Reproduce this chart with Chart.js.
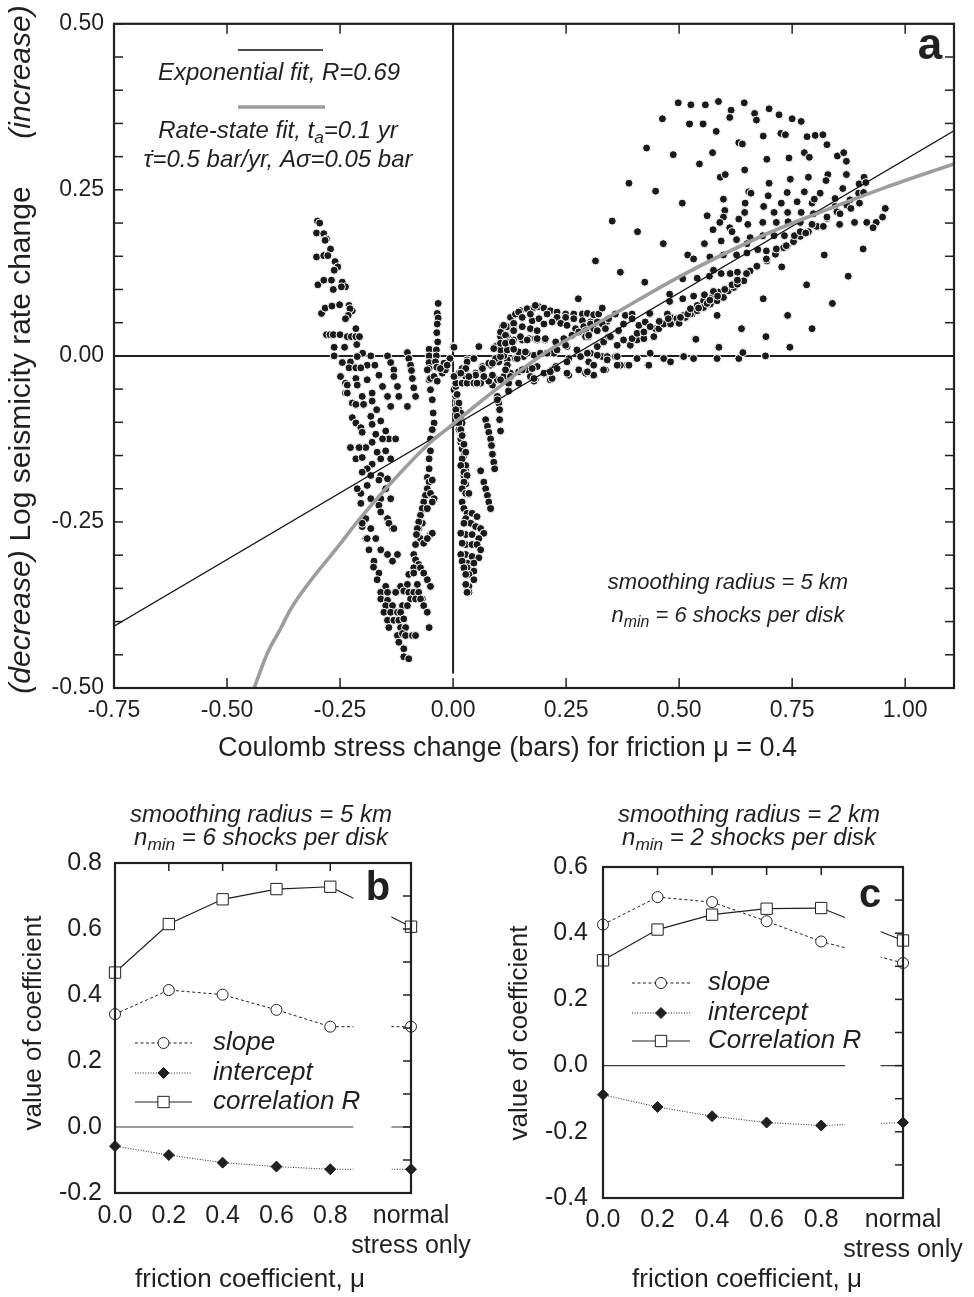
<!DOCTYPE html>
<html>
<head>
<meta charset="utf-8">
<script src="https://cdn.jsdelivr.net/npm/chart.js@4.4.1/dist/chart.umd.min.js"></script>
<style>
  html, body { margin: 0; padding: 0; background: #fff; }
  #page { position: relative; width: 974px; height: 1297px; overflow: hidden; background: #fff; }
  #page canvas { position: absolute; }
</style>
</head>
<body>
<div id="page">
  <canvas id="panelA" width="974" height="785" style="left:0;top:0;width:974px;height:785px"></canvas>
  <canvas id="panelB" width="490" height="512" style="left:0;top:785px;width:490px;height:512px"></canvas>
  <canvas id="panelC" width="484" height="512" style="left:490px;top:785px;width:484px;height:512px"></canvas>
</div>
<script>
// ---------- panel a: smoothed cells, stress change vs. log rate change ----------
const xTickValuesA = [-0.75, -0.5, -0.25, 0, 0.25, 0.5, 0.75, 1.0];
const xTickLabelsA = ['-0.75', '-0.50', '-0.25', '0.00', '0.25', '0.50', '0.75', '1.00'];
const yTickValuesA = [-0.5, -0.25, 0, 0.25, 0.5];
const yTickLabelsA = ['-0.50', '-0.25', '0.00', '0.25', '0.50'];

// [Coulomb stress change (bar), log seismicity rate change]
const cellPairs = [
  // western lobe, rising streaks
  [-0.300,0.203],[-0.295,0.200],[-0.302,0.185],[-0.286,0.184],[-0.280,0.176],[-0.283,0.174],[-0.271,0.161],
  [-0.302,0.149],[-0.286,0.151],[-0.277,0.151],[-0.261,0.142],[-0.255,0.134],[-0.263,0.129],[-0.299,0.107],
  [-0.286,0.114],[-0.269,0.114],[-0.265,0.100],[-0.245,0.111],[-0.238,0.104],[-0.247,0.104],[-0.291,0.064],
  [-0.283,0.072],[-0.268,0.075],[-0.251,0.077],[-0.230,0.076],[-0.223,0.068],[-0.228,0.071],[-0.232,0.061],
  [-0.238,0.056],[-0.215,0.041],[-0.280,0.032],[-0.272,0.032],[-0.265,0.032],[-0.250,0.032],[-0.234,0.029],
  [-0.225,0.029],[-0.215,0.029],[-0.207,0.029],[-0.263,0.013],[-0.240,0.013],[-0.213,0.017],[-0.200,0.004],
  [-0.263,0.000],[-0.245,-0.010],[-0.227,-0.009],[-0.212,-0.001],[-0.182,0.000],[-0.190,-0.014],[-0.173,-0.014],
  [-0.230,-0.018],[-0.215,-0.018],[-0.204,-0.018],[-0.145,0.000],[-0.138,-0.010],[-0.131,-0.021],[-0.101,0.005],
  [-0.098,-0.004],[-0.094,-0.014],[-0.092,-0.022],[-0.053,0.010],[-0.053,0.000],[-0.053,-0.010],[-0.053,-0.019],
  [-0.033,0.079],[-0.035,0.064],[-0.033,0.057],[-0.035,0.048],[-0.036,0.035],[-0.034,0.021],[-0.037,0.009],
  [-0.037,0.000],[-0.039,-0.009],[-0.036,-0.017],[0.000,0.014],[-0.007,-0.004],[-0.013,-0.014],[-0.016,-0.021],
  [0.031,-0.006],[0.020,-0.019],
  // western lobe, falling streaks
  [-0.249,-0.031],[-0.238,-0.041],[-0.238,-0.056],[-0.215,-0.034],[-0.212,-0.044],[-0.190,-0.036],[-0.164,-0.029],
  [-0.156,-0.046],[-0.179,-0.056],[-0.201,-0.061],[-0.223,-0.071],[-0.215,-0.073],[-0.198,-0.073],[-0.179,-0.068],
  [-0.169,-0.081],[-0.145,-0.061],[-0.138,-0.076],[-0.123,-0.046],[-0.120,-0.061],[-0.101,-0.076],[-0.083,-0.061],
  [-0.087,-0.048],[-0.090,-0.034],[-0.131,-0.031],[-0.223,-0.093],[-0.215,-0.101],[-0.204,-0.108],[-0.201,-0.115],
  [-0.182,-0.091],[-0.179,-0.103],[-0.160,-0.098],[-0.149,-0.113],[-0.142,-0.125],[-0.127,-0.125],[-0.156,-0.125],
  [-0.171,-0.118],[-0.179,-0.130],[-0.193,-0.138],[-0.227,-0.138],[-0.208,-0.138],[-0.215,-0.155],[-0.201,-0.153],
  [-0.179,-0.163],[-0.168,-0.145],[-0.149,-0.143],[-0.138,-0.155],[-0.160,-0.155],[-0.190,-0.170],[-0.201,-0.175],
  [-0.182,-0.180],[-0.160,-0.180],[-0.145,-0.185],[-0.164,-0.187],[-0.149,-0.200],[-0.190,-0.195],[-0.204,-0.207],
  [-0.182,-0.215],[-0.160,-0.215],[-0.138,-0.215],[-0.212,-0.200],[-0.204,-0.222],[-0.164,-0.225],[-0.160,-0.235],
  [-0.145,-0.245],[-0.134,-0.260],[-0.193,-0.245],[-0.201,-0.257],[-0.193,-0.275],[-0.234,-0.044],[-0.234,-0.056],
  // western lobe, deep trough
  [-0.201,-0.252],[-0.182,-0.260],[-0.142,-0.252],[-0.131,-0.260],[-0.190,-0.275],[-0.171,-0.275],[-0.186,-0.292],
  [-0.160,-0.292],[-0.145,-0.299],[-0.123,-0.299],[-0.134,-0.309],[-0.175,-0.309],[-0.176,-0.318],[-0.164,-0.327],
  [-0.168,-0.337],[-0.149,-0.347],[-0.116,-0.347],[-0.160,-0.356],[-0.145,-0.356],[-0.127,-0.356],[-0.160,-0.366],
  [-0.145,-0.368],[-0.149,-0.376],[-0.134,-0.376],[-0.153,-0.386],[-0.138,-0.386],[-0.123,-0.386],[-0.145,-0.398],
  [-0.131,-0.398],[-0.120,-0.398],[-0.142,-0.409],[-0.116,-0.409],[-0.123,-0.421],
  [-0.068,-0.252],[-0.076,-0.260],[-0.079,-0.269],[-0.072,-0.275],[-0.065,-0.282],[-0.050,-0.269],[-0.046,-0.267],
  [-0.057,-0.275],[-0.083,-0.284],[-0.087,-0.299],[-0.083,-0.307],[-0.076,-0.314],[-0.087,-0.319],[-0.072,-0.319],
  [-0.098,-0.329],[-0.087,-0.327],[-0.065,-0.327],[-0.057,-0.337],[-0.050,-0.347],[-0.079,-0.344],[-0.101,-0.344],
  [-0.109,-0.354],[-0.098,-0.356],[-0.087,-0.356],[-0.076,-0.356],[-0.068,-0.366],[-0.094,-0.366],[-0.083,-0.366],
  [-0.072,-0.366],[-0.065,-0.376],[-0.057,-0.386],[-0.112,-0.376],[-0.101,-0.376],[-0.116,-0.386],[-0.109,-0.396],
  [-0.105,-0.409],[-0.112,-0.418],[-0.105,-0.421],[-0.090,-0.421],[-0.083,-0.421],[-0.120,-0.431],[-0.109,-0.441],
  [-0.109,-0.453],[-0.098,-0.456],[-0.053,-0.409],
  // column just west of zero stress
  [-0.057,-0.021],[-0.053,-0.036],[-0.050,-0.051],[-0.046,-0.066],[-0.044,-0.086],[-0.042,-0.101],[-0.046,-0.111],
  [-0.050,-0.125],[-0.050,-0.143],[-0.053,-0.155],[-0.053,-0.170],[-0.057,-0.183],[-0.053,-0.190],[-0.057,-0.200],
  [-0.061,-0.210],[-0.065,-0.220],[-0.068,-0.230],[-0.072,-0.240],[-0.076,-0.250],[-0.079,-0.260],[-0.081,-0.269],
  [-0.046,-0.187],[-0.050,-0.207],[-0.042,-0.215],[-0.046,-0.220],[-0.057,-0.230],[-0.050,-0.034],[-0.042,-0.031],
  [-0.035,-0.038],[-0.024,-0.026],[-0.017,-0.021],[-0.020,-0.011],[-0.028,-0.019],
  // column just east of zero stress
  [0.002,-0.051],[0.006,-0.061],[0.009,-0.071],[0.013,-0.081],[0.017,-0.091],[0.020,-0.101],[0.017,-0.111],
  [0.020,-0.120],[0.017,-0.130],[0.023,-0.140],[0.024,-0.150],[0.020,-0.160],[0.028,-0.170],[0.031,-0.180],
  [0.006,-0.046],[0.009,-0.058],[0.013,-0.071],[0.017,-0.086],[0.013,-0.111],[0.017,-0.125],[0.020,-0.140],
  [0.028,-0.165],[0.024,-0.180],[0.028,-0.193],
  [0.006,-0.081],[0.009,-0.091],[0.013,-0.101],[0.017,-0.111],[0.020,-0.120],[0.024,-0.133],[0.028,-0.145],
  [0.020,-0.155],[0.017,-0.165],[0.024,-0.175],[0.031,-0.180],[0.024,-0.190],[0.020,-0.200],[0.028,-0.207],
  [0.035,-0.207],[0.020,-0.220],[0.024,-0.230],[0.031,-0.237],[0.042,-0.237],[0.053,-0.242],[0.028,-0.245],
  [0.039,-0.252],[0.050,-0.257],[0.061,-0.260],[0.068,-0.267],[0.057,-0.275],[0.028,-0.269],[0.042,-0.269],
  [0.028,-0.284],[0.042,-0.284],[0.053,-0.284],[0.061,-0.292],[0.028,-0.299],[0.042,-0.302],[0.057,-0.304],
  [0.031,-0.312],[0.046,-0.312],[0.031,-0.319],[0.046,-0.324],[0.035,-0.329],[0.046,-0.337],[0.035,-0.347],
  [0.035,-0.356],[0.024,-0.252],[0.017,-0.267],[0.020,-0.282],[0.017,-0.299],[0.020,-0.309],[0.024,-0.319],
  [0.028,-0.329],[0.028,-0.344],[0.031,-0.356],
  // short streaks east of zero stress
  [0.072,-0.096],[0.076,-0.106],[0.079,-0.115],[0.083,-0.125],[0.085,-0.135],[0.087,-0.148],[0.090,-0.160],
  [0.092,-0.170],[0.061,-0.173],[0.068,-0.190],[0.072,-0.200],[0.076,-0.210],[0.079,-0.220],[0.083,-0.230],
  [0.087,-0.044],[0.098,-0.061],[0.101,-0.071],[0.103,-0.081],[0.103,-0.096],[0.105,-0.113],
  // near-zero band east of zero stress
  [0.009,-0.029],[0.028,-0.031],[0.050,-0.026],[0.065,-0.021],[0.083,-0.014],[0.101,-0.009],[0.120,-0.006],
  [0.138,-0.004],[0.156,-0.001],[0.179,0.001],[0.006,-0.041],[0.020,-0.041],[0.031,-0.041],[0.046,-0.041],
  [0.061,-0.041],[0.079,-0.038],[0.098,-0.036],[0.112,-0.031],[0.127,-0.026],[0.145,-0.024],[0.164,-0.021],
  [0.186,-0.016],[0.002,0.013],[0.057,0.014],
  [0.031,-0.009],[0.046,-0.004],[0.094,-0.004],[0.112,0.000],[0.142,-0.004],[0.164,0.004],[0.193,0.004],
  [0.223,0.004],[0.256,-0.004],[0.274,0.009],[0.282,-0.001],[0.304,0.004],[0.330,-0.001],[0.341,-0.001],
  [0.359,-0.001],[0.407,-0.004],[0.436,0.004],[0.466,-0.004],[0.481,-0.009],[0.510,-0.001],[0.532,-0.004],
  [0.584,-0.004],[0.632,-0.004],[0.641,0.005],[0.691,0.000],[0.431,-0.014],[0.385,-0.014],[0.370,-0.014],
  [-0.013,-0.014],[0.013,-0.026],[0.028,-0.019],[0.050,-0.029],[0.065,-0.016],[0.079,-0.011],[0.120,-0.014],
  [0.153,-0.021],[0.175,-0.019],[0.201,-0.026],[0.219,-0.021],[0.227,-0.016],[0.252,-0.009],[0.300,-0.009],
  [0.311,-0.014],[0.337,-0.021],[0.389,-0.014],[0.433,-0.014],
  [0.053,-0.041],[0.068,-0.031],[0.087,-0.029],[0.105,-0.036],[0.123,-0.041],[0.145,-0.041],[0.171,-0.031],
  [0.182,-0.036],[0.215,-0.036],[0.256,-0.029],[0.278,-0.021],[0.293,-0.026],[0.311,-0.029],
  [0.002,-0.031],[0.017,-0.026],[0.035,-0.031],[0.116,-0.021],[0.127,-0.031],[0.179,-0.038],[0.201,-0.026],
  [0.219,-0.034],[0.230,-0.019],[0.252,-0.026],[0.297,-0.024],[0.333,-0.021],[0.341,-0.006],[0.363,-0.014],
  [0.065,-0.019],[0.087,-0.011],[0.105,-0.001],[0.123,0.009],[0.145,0.006],[0.208,0.004],[0.230,0.009],
  [0.252,0.014],[0.297,0.004],[0.319,0.001],[0.363,-0.001],[0.098,-0.066],[0.123,-0.053],[0.179,-0.034],
  [0.215,-0.024],
  // hump at 0.1-0.4 bar
  [0.109,0.044],[0.127,0.058],[0.138,0.063],[0.149,0.068],[0.164,0.071],[0.179,0.073],[0.190,0.074],
  [0.120,0.044],[0.134,0.044],[0.153,0.044],[0.175,0.053],[0.190,0.056],[0.105,0.029],[0.120,0.029],
  [0.134,0.024],[0.153,0.024],[0.168,0.026],[0.182,0.026],[0.094,0.014],[0.105,0.009],[0.120,0.009],
  [0.134,0.010],[0.160,0.006],[0.105,0.036],[0.112,0.046],[0.145,0.066],[0.182,0.076],[0.201,0.072],
  [0.215,0.068],[0.230,0.066],[0.249,0.063],[0.267,0.063],[0.286,0.063],[0.297,0.064],[0.311,0.062],
  [0.330,0.072],[0.134,0.049],[0.153,0.058],[0.171,0.063],[0.208,0.063],[0.230,0.058],[0.249,0.058],
  [0.267,0.056],[0.286,0.053],[0.304,0.051],[0.322,0.063],[0.116,0.031],[0.134,0.038],[0.171,0.041],
  [0.186,0.038],[0.201,0.048],[0.219,0.051],[0.238,0.049],[0.252,0.046],[0.271,0.041],[0.289,0.044],
  [0.304,0.048],[0.319,0.051],[0.341,0.052],[0.105,0.019],[0.120,0.021],[0.149,0.029],[0.186,0.024],
  [0.204,0.024],[0.227,0.021],[0.245,0.026],[0.263,0.031],[0.278,0.036],[0.293,0.038],[0.311,0.041],
  [0.330,0.048],[0.344,0.056],[0.359,0.063],[0.381,0.061],[0.396,0.063],
  [0.090,0.011],[0.116,0.019],[0.131,0.021],[0.164,0.024],[0.186,0.026],[0.204,0.026],[0.249,0.016],
  [0.293,0.029],[0.300,0.029],[0.319,0.014],[0.333,0.021],[0.344,0.029],[0.363,0.016],[0.377,0.024],
  [0.392,0.016],[0.407,0.024],[0.422,0.026],[0.444,0.029],[0.536,0.025],[0.587,0.013],
  // rising band along the fit
  [0.300,0.031],[0.319,0.038],[0.337,0.041],[0.348,0.029],[0.366,0.038],[0.377,0.048],[0.396,0.056],
  [0.411,0.046],[0.425,0.051],[0.436,0.063],[0.448,0.041],[0.462,0.048],[0.481,0.058],[0.495,0.051],
  [0.510,0.061],[0.529,0.063],[0.540,0.076],[0.554,0.083],[0.573,0.088],[0.587,0.096],[0.602,0.101],
  [0.619,0.108],[0.632,0.113],[0.650,0.123],[0.672,0.135],[0.694,0.145],[0.716,0.160],[0.739,0.165],
  [0.757,0.180],[0.779,0.185],[0.801,0.197],[0.845,0.225],[0.878,0.235],[0.897,0.245],[0.912,0.260],
  [0.377,0.024],[0.396,0.026],[0.407,0.034],[0.422,0.036],[0.436,0.044],[0.455,0.041],[0.466,0.048],
  [0.481,0.048],[0.495,0.056],[0.514,0.058],[0.525,0.063],[0.540,0.068],[0.554,0.073],[0.569,0.078],
  [0.584,0.083],[0.598,0.088],[0.609,0.098],[0.621,0.103],[0.628,0.108],[0.643,0.113],
  [0.657,0.128],[0.694,0.143],[0.713,0.153],[0.731,0.163],[0.753,0.172],[0.768,0.180],[0.786,0.187],
  [0.805,0.195],[0.827,0.207],[0.849,0.217],[0.871,0.227],
  // scattered high values east of 0.3 bar
  [0.498,0.381],[0.526,0.378],[0.558,0.378],[0.587,0.383],[0.615,0.370],[0.644,0.381],[0.667,0.365],
  [0.671,0.355],[0.699,0.372],[0.721,0.363],[0.750,0.357],[0.770,0.353],[0.612,0.359],[0.463,0.357],
  [0.523,0.349],[0.553,0.349],[0.582,0.338],[0.686,0.331],[0.725,0.335],[0.735,0.333],[0.783,0.330],
  [0.801,0.332],[0.818,0.333],[0.827,0.318],[0.632,0.321],[0.640,0.319],[0.428,0.313],[0.487,0.303],
  [0.574,0.306],[0.545,0.289],[0.777,0.306],[0.788,0.299],[0.743,0.298],[0.694,0.296],[0.850,0.301],
  [0.864,0.306],[0.870,0.293],[0.645,0.280],[0.829,0.273],[0.870,0.273],[0.591,0.269],[0.602,0.273],
  [0.699,0.260],[0.746,0.266],[0.786,0.269],[0.825,0.264],[0.909,0.269],[0.898,0.259],[0.913,0.261],
  [0.389,0.260],[0.448,0.248],[0.654,0.247],[0.659,0.245],[0.697,0.241],[0.739,0.246],[0.777,0.247],
  [0.812,0.245],[0.862,0.252],[0.908,0.246],[0.598,0.236],[0.507,0.230],[0.646,0.230],[0.687,0.225],
  [0.726,0.230],[0.761,0.232],[0.794,0.230],[0.799,0.236],[0.845,0.237],[0.899,0.230],[0.601,0.219],
  [0.562,0.211],[0.598,0.209],[0.645,0.216],[0.710,0.216],[0.740,0.216],[0.770,0.216],[0.797,0.214],
  [0.827,0.209],[0.856,0.214],[0.880,0.222],[0.956,0.222],[0.950,0.209],[0.352,0.203],[0.590,0.201],
  [0.612,0.193],[0.632,0.206],[0.652,0.198],[0.685,0.201],[0.715,0.201],[0.741,0.202],[0.768,0.201],
  [0.794,0.198],[0.819,0.195],[0.855,0.198],[0.888,0.201],[0.915,0.201],[0.936,0.201],[0.929,0.193],
  [0.408,0.187],[0.575,0.190],[0.617,0.187],[0.627,0.175],[0.657,0.178],[0.685,0.181],[0.710,0.181],
  [0.733,0.181],[0.755,0.181],[0.768,0.187],[0.780,0.185],[0.465,0.169],[0.556,0.169],[0.593,0.173],
  [0.650,0.169],[0.674,0.160],[0.693,0.158],[0.715,0.161],[0.737,0.166],[0.907,0.161],[0.519,0.152],
  [0.532,0.146],[0.568,0.149],[0.598,0.152],[0.627,0.152],[0.650,0.155],[0.693,0.146],[0.821,0.152],
  [0.315,0.143],[0.370,0.126],[0.508,0.116],[0.540,0.117],[0.567,0.120],[0.576,0.129],[0.593,0.124],
  [0.613,0.124],[0.629,0.126],[0.649,0.124],[0.727,0.134],[0.874,0.120],[0.782,0.107],[0.424,0.111],
  [0.479,0.093],[0.479,0.082],[0.508,0.086],[0.532,0.090],[0.556,0.092],[0.576,0.097],[0.585,0.090],
  [0.601,0.100],[0.617,0.107],[0.629,0.108],[0.629,0.114],[0.686,0.086],[0.839,0.079],[0.277,0.086],
  [0.330,0.072],[0.435,0.064],[0.456,0.052],[0.474,0.063],[0.476,0.056],[0.500,0.049],[0.503,0.058],
  [0.519,0.063],[0.525,0.071],[0.543,0.072],[0.562,0.079],[0.568,0.084],[0.584,0.061],[0.740,0.061],
  [0.638,0.041],[0.794,0.041],[0.537,0.025],[0.692,0.029],[0.745,0.013],[0.588,0.013]
];

// straight-line (exponential in rate) fit, end points at the frame
const expFitStress = [-0.75, 1.108];
const expFitLog = [-0.407, 0.339];

// rate-state curve
const rateStateStress = [-0.44, -0.411, -0.381, -0.359, -0.245, -0.212, -0.145, -0.050, -0.006, 0.055, 0.200, 0.356, 0.500, 0.688, 0.807, 0.954, 1.108];
const rateStateLog    = [-0.500, -0.448, -0.410, -0.381, -0.279, -0.250, -0.197, -0.130, -0.106, -0.072, 0.003, 0.063, 0.119, 0.182, 0.215, 0.253, 0.289];

// ---------- panels b and c: regression coefficients vs. friction ----------
const frictionSteps = [0, 0.2, 0.4, 0.6, 0.8, 1.1];   // last entry: normal stress only
const frictionLabels = ['0.0', '0.2', '0.4', '0.6', '0.8', ['normal', 'stress only']];

const slopeB     = [0.342, 0.415, 0.401, 0.355, 0.304, 0.304];
const interceptB = [-0.058, -0.085, -0.108, -0.120, -0.128, -0.128];
const corrB      = [0.468, 0.615, 0.690, 0.721, 0.728, 0.607];
const yTickValuesB = [-0.2, 0, 0.2, 0.4, 0.6, 0.8];
const yTickLabelsB = ['-0.2', '0.0', '0.2', '0.4', '0.6', '0.8'];

const slopeC     = [0.426, 0.509, 0.494, 0.436, 0.375, 0.310];
const interceptC = [-0.088, -0.125, -0.153, -0.172, -0.181, -0.172];
const corrC      = [0.318, 0.411, 0.456, 0.474, 0.476, 0.378];
const yTickValuesC = [-0.4, -0.2, 0, 0.2, 0.4, 0.6];
const yTickLabelsC = ['-0.4', '-0.2', '0.0', '0.2', '0.4', '0.6'];

// ---------- drawing helpers ----------
const SANS = "'Liberation Sans', Arial, Helvetica, sans-serif";
const INK = '#231f20';
const GREY = '#9d9d9d';
Chart.defaults.font.family = SANS;
Chart.defaults.color = INK;

function ticksEvery(lo, hi, step) {
  const out = [];
  for (let v = lo; v <= hi + 1e-9; v += step) out.push(+v.toFixed(4));
  return out;
}
function xy(xs, ys) { return xs.map((x, i) => ({ x, y: ys[i] })); }

function seg(ctx, x1, y1, x2, y2) {
  ctx.beginPath(); ctx.moveTo(x1, y1); ctx.lineTo(x2, y2); ctx.stroke();
}

// text made of pieces, some of them subscripts
function richText(ctx, parts, x, y, size, style, align) {
  let total = 0;
  const pieces = parts.map(p => {
    const fs = p.sub ? size * 0.72 : size;
    ctx.font = `${style} ${fs}px ${SANS}`;
    const w = ctx.measureText(p.t).width;
    total += w;
    return { t: p.t, fs, w, dy: p.sub ? size * 0.3 : 0 };
  });
  let cx = align === 'center' ? x - total / 2 : x;
  ctx.textAlign = 'left';
  ctx.textBaseline = 'middle';
  pieces.forEach(p => {
    ctx.font = `${style} ${p.fs}px ${SANS}`;
    ctx.fillText(p.t, cx, y + p.dy);
    cx += p.w;
  });
}

function vText(ctx, text, x, y, font) {
  ctx.save();
  ctx.translate(x, y);
  ctx.rotate(-Math.PI / 2);
  ctx.font = font;
  ctx.textAlign = 'center';
  ctx.textBaseline = 'middle';
  ctx.fillText(text, 0, 0);
  ctx.restore();
}

// frame, inward tick marks, and optional axis break
const frameTicks = {
  id: 'frameTicks',
  afterDatasetsDraw(chart, args, o) {
    if (o.breakFrom == null) return;
    const { ctx, chartArea: ca, scales } = chart;
    const x1 = scales.x.getPixelForValue(o.breakFrom);
    const x2 = scales.x.getPixelForValue(o.breakTo);
    ctx.save();
    ctx.fillStyle = '#fff';
    ctx.fillRect(x1, ca.top + 1.5, x2 - x1, ca.bottom - ca.top - 3);
    ctx.restore();
  },
  afterDraw(chart, args, o) {
    const { ctx, chartArea: ca, scales } = chart;
    ctx.save();
    ctx.strokeStyle = INK;
    ctx.lineWidth = 1.5;
    (o.xTicks || []).forEach(v => {
      const px = scales.x.getPixelForValue(v);
      if (o.xTop) seg(ctx, px, ca.top, px, ca.top + o.xLen);
      if (o.xBottom) seg(ctx, px, ca.bottom, px, ca.bottom - o.xLen);
    });
    (o.yTicks || []).forEach(v => {
      const py = scales.y.getPixelForValue(v);
      if (o.yLeft) seg(ctx, ca.left, py, ca.left + o.yLen, py);
      if (o.yRight) seg(ctx, ca.right, py, ca.right - o.yLen, py);
    });
    ctx.lineWidth = 2.2;
    ctx.strokeRect(ca.left, ca.top, ca.right - ca.left, ca.bottom - ca.top);
    ctx.restore();
  }
};

function axisX(min, max, values, labels, size, pad, height) {
  return {
    type: 'linear', min, max, bounds: 'data',
    grid: { display: false, drawTicks: false, tickLength: 0 },
    border: { display: false },
    ticks: { autoSkip: false, maxRotation: 0, minRotation: 0, padding: pad, color: INK,
             font: { size }, callback: (v, i) => labels[i] },
    afterBuildTicks: s => { s.ticks = values.map(v => ({ value: v })); },
    afterFit: s => { s.height = height; }
  };
}
function axisY(min, max, values, labels, size, pad, width) {
  return {
    type: 'linear', min, max, bounds: 'data',
    grid: { display: false, drawTicks: false, tickLength: 0 },
    border: { display: false },
    ticks: { autoSkip: false, padding: pad, color: INK, font: { size }, callback: (v, i) => labels[i] },
    afterBuildTicks: s => { s.ticks = values.map(v => ({ value: v })); },
    afterFit: s => { s.width = width; }
  };
}
const quiet = { animation: false, responsive: false, devicePixelRatio: 1, events: [] };

// ---------- panel a ----------
const panelAText = {
  id: 'panelAText',
  afterDraw(chart) {
    const ctx = chart.ctx;
    ctx.save();
    ctx.fillStyle = INK;
    ctx.lineCap = 'butt';
    ctx.strokeStyle = '#111'; ctx.lineWidth = 1.3;
    seg(ctx, 238, 50, 323, 50);
    ctx.strokeStyle = GREY; ctx.lineWidth = 3.6;
    seg(ctx, 238, 107, 325, 107);
    richText(ctx, [{ t: 'Exponential fit, R=0.69' }], 279, 73, 24, 'italic', 'center');
    richText(ctx, [{ t: 'Rate-state fit, t' }, { t: 'a', sub: true }, { t: '=0.1 yr' }], 278, 131, 24, 'italic', 'center');
    richText(ctx, [{ t: '\u03c4\u0307=0.5 bar/yr, A\u03c3=0.05 bar' }], 278, 160, 24, 'italic', 'center');
    richText(ctx, [{ t: 'smoothing radius = 5 km' }], 728, 583, 22, 'italic', 'center');
    richText(ctx, [{ t: 'n' }, { t: 'min', sub: true }, { t: ' = 6 shocks per disk' }], 728, 616, 22, 'italic', 'center');
    ctx.font = `bold 44px ${SANS}`;
    ctx.textAlign = 'center'; ctx.textBaseline = 'middle';
    ctx.fillText('a', 930, 47);
    vText(ctx, 'Log seismicity rate change', 22, 364, `30px ${SANS}`);
    vText(ctx, '(increase)', 22, 72, `italic 30px ${SANS}`);
    vText(ctx, '(decrease)', 22, 622, `italic 30px ${SANS}`);
    ctx.font = `27px ${SANS}`;
    ctx.textAlign = 'left'; ctx.textBaseline = 'middle';
    ctx.fillText('Coulomb stress change (bars) for friction \u03bc = 0.4', 218, 749);
    ctx.restore();
  }
};

new Chart(document.getElementById('panelA'), {
  type: 'scatter',
  data: {
    datasets: [
      { label: 'zero stress', data: [{ x: 0, y: 0.5 }, { x: 0, y: -0.478 }], showLine: true,
        borderColor: INK, borderWidth: 2, pointRadius: 0, order: 5 },
      { label: 'zero rate', data: [{ x: -0.75, y: 0 }, { x: 1.108, y: 0 }], showLine: true,
        borderColor: INK, borderWidth: 2, pointRadius: 0, order: 5 },
      { label: 'cells', data: cellPairs.map(([x, y]) => ({ x, y })), pointRadius: 4,
        pointBackgroundColor: '#1a1a1a', pointBorderColor: '#ffffff', pointBorderWidth: 1, order: 3 },
      { label: 'Exponential fit', data: xy(expFitStress, expFitLog), showLine: true,
        borderColor: '#111', borderWidth: 1.3, pointRadius: 0, order: 2 },
      { label: 'Rate-state fit', data: xy(rateStateStress, rateStateLog), showLine: true,
        borderColor: GREY, borderWidth: 3.6, pointRadius: 0, cubicInterpolationMode: 'monotone', order: 1 }
    ]
  },
  options: {
    ...quiet,
    layout: { padding: { left: 0, right: 20, top: 17, bottom: 0 } },
    plugins: {
      legend: { display: false }, tooltip: { enabled: false },
      frameTicks: { xTicks: xTickValuesA, xTop: true, xBottom: true, xLen: 10,
                    yTicks: ticksEvery(-0.5, 0.5, 0.05), yLeft: true, yRight: true, yLen: 9 }
    },
    scales: {
      x: axisX(-0.75, 1.108, xTickValuesA, xTickLabelsA, 23, 9, 97),
      y: axisY(-0.5, 0.5, yTickValuesA, yTickLabelsA, 23, 10, 114)
    }
  },
  plugins: [frameTicks, panelAText]
});

// ---------- panels b and c ----------
function coefficientPanel(canvasId, cfg) {
  const text = {
    id: 'panelText' + canvasId,
    afterDraw(chart) {
      const ctx = chart.ctx;
      ctx.save();
      ctx.fillStyle = INK;
      richText(ctx, [{ t: cfg.header1 }], cfg.headX, 30, 24, 'italic', 'center');
      richText(ctx, [{ t: 'n' }, { t: 'min', sub: true }, { t: cfg.header2 }], cfg.headX, 53, 24, 'italic', 'center');
      ctx.font = `bold 40px ${SANS}`;
      ctx.textAlign = 'center'; ctx.textBaseline = 'middle';
      ctx.fillText(cfg.letter, cfg.letterX, cfg.letterY);
      vText(ctx, 'value of coefficient', cfg.yTitleX, cfg.yTitleY, `26px ${SANS}`);
      ctx.font = `26px ${SANS}`;
      ctx.textAlign = 'center'; ctx.textBaseline = 'middle';
      ctx.fillText('friction coefficient, \u03bc', cfg.xTitleX, 495);
      // key
      const rows = [
        { label: 'slope', dash: [3, 2.5], style: 'circle', fill: '#fff', r: 5.5 },
        { label: 'intercept', dash: [1, 1.6], style: 'rectRot', fill: INK, r: 5.5 },
        { label: cfg.corrLabel, dash: [], style: 'rect', fill: '#fff', r: 8 }
      ];
      rows.forEach((row, i) => {
        const y = cfg.keyY[i];
        ctx.strokeStyle = INK; ctx.lineWidth = 1; ctx.setLineDash(row.dash);
        seg(ctx, cfg.keyX0, y, cfg.keyX1, y);
        ctx.setLineDash([]);
        ctx.fillStyle = row.fill; ctx.strokeStyle = INK; ctx.lineWidth = 1;
        Chart.helpers.drawPoint(ctx, { pointStyle: row.style, radius: row.r, borderWidth: 1,
          rotation: 0 }, (cfg.keyX0 + cfg.keyX1) / 2, y);
        ctx.fillStyle = INK;
        richText(ctx, [{ t: row.label }], cfg.keyTextX, y, 26, 'italic', 'left');
      });
      ctx.restore();
    }
  };
  new Chart(document.getElementById(canvasId), {
    type: 'scatter',
    data: {
      datasets: [
        { label: 'zero', data: [{ x: 0, y: 0 }, { x: 1.1, y: 0 }], showLine: true,
          borderColor: '#3a3a3a', borderWidth: 1.2, pointRadius: 0, order: 4 },
        { label: 'intercept', data: xy(frictionSteps, cfg.intercept), showLine: true, clip: false,
          borderColor: INK, borderWidth: 1, borderDash: [1, 1.6], pointStyle: 'rectRot', pointRadius: 5.5,
          pointBackgroundColor: INK, pointBorderColor: INK, pointBorderWidth: 1, order: 3 },
        { label: 'slope', data: xy(frictionSteps, cfg.slope), showLine: true, clip: false,
          borderColor: INK, borderWidth: 1, borderDash: [3, 2.5], pointStyle: 'circle', pointRadius: 5.5,
          pointBackgroundColor: '#fff', pointBorderColor: INK, pointBorderWidth: 1, order: 2 },
        { label: cfg.corrLabel, data: xy(frictionSteps, cfg.corr), showLine: true, clip: false,
          borderColor: INK, borderWidth: 1.2, pointStyle: 'rect', pointRadius: 8,
          pointBackgroundColor: '#fff', pointBorderColor: INK, pointBorderWidth: 1, order: 1 }
      ]
    },
    options: {
      ...quiet,
      layout: { padding: { left: 0, right: cfg.padRight, top: cfg.padTop, bottom: 0 } },
      plugins: {
        legend: { display: false }, tooltip: { enabled: false },
        frameTicks: { xTicks: [0.2, 0.4, 0.6, 0.8], xTop: true, xBottom: false, xLen: 8,
                      yTicks: ticksEvery(cfg.yMin, cfg.yMax, 0.1), yLeft: false, yRight: true, yLen: 8,
                      breakFrom: cfg.breakFrom, breakTo: cfg.breakTo }
      },
      scales: {
        x: axisX(0, 1.1, frictionSteps, frictionLabels, 25, cfg.xPad, cfg.xHeight),
        y: axisY(cfg.yMin, cfg.yMax, cfg.yValues, cfg.yLabels, 25, cfg.yPad, cfg.yWidth)
      }
    },
    plugins: [frameTicks, text]
  });
}

coefficientPanel('panelB', {
  slope: slopeB, intercept: interceptB, corr: corrB,
  yMin: -0.2, yMax: 0.8, yValues: yTickValuesB, yLabels: yTickLabelsB,
  header1: 'smoothing radius = 5 km', header2: ' = 6 shocks per disk', headX: 261,
  letter: 'b', letterX: 378, letterY: 104, corrLabel: 'correlation R',
  yTitleX: 34, yTitleY: 238, xTitleX: 250,
  keyX0: 135, keyX1: 192, keyTextX: 213, keyY: [258, 288, 317],
  padRight: 79, padTop: 78, xHeight: 104, yWidth: 115, xPad: 8, yPad: 13,
  breakFrom: 0.886, breakTo: 1.027
});

coefficientPanel('panelC', {
  slope: slopeC, intercept: interceptC, corr: corrC,
  yMin: -0.4, yMax: 0.6, yValues: yTickValuesC, yLabels: yTickLabelsC,
  header1: 'smoothing radius = 2 km', header2: ' = 2 shocks per disk', headX: 259,
  letter: 'c', letterX: 380, letterY: 111, corrLabel: 'Correlation R',
  yTitleX: 30, yTitleY: 248, xTitleX: 257,
  keyX0: 142, keyX1: 200, keyTextX: 218, keyY: [198, 228, 256],
  padRight: 71, padTop: 82, xHeight: 99, yWidth: 113, xPad: 7, yPad: 15,
  breakFrom: 0.888, breakTo: 1.018
});
</script>
</body>
</html>
